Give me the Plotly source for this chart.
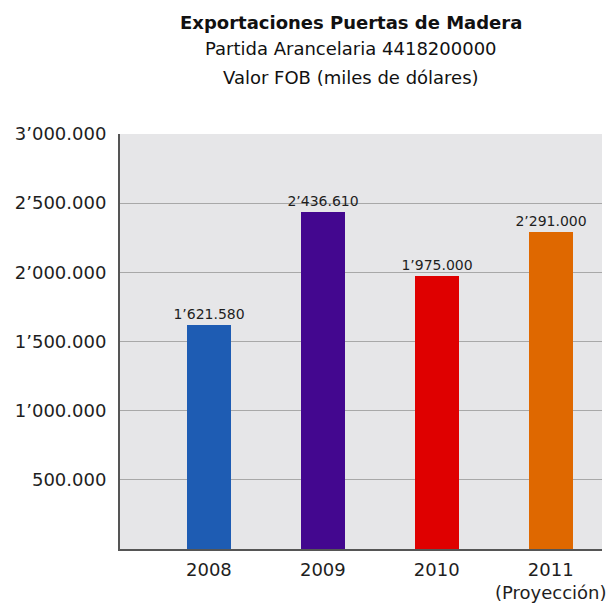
import plotly.graph_objects as go

# Export values, FOB (thousands of US dollars)
years = ["2008", "2009", "2010", "2011<br>(Proyección)"]
values = [1621580, 2436610, 1975000, 2291000]
colors = ["#1E5CB3", "#43078F", "#DF0000", "#DF6800"]
y_ticks = [500000, 1000000, 1500000, 2000000, 2500000, 3000000]


def fmt(v):
    # 1621580 -> 1’621.580
    s = f"{v:,}"
    parts = s.split(",")
    if len(parts) == 3:
        return parts[0] + "’" + parts[1] + "." + parts[2]
    return ".".join(parts)


x_pos = list(range(len(years)))
font_family = "DejaVu Sans, Arial, Helvetica, sans-serif"

W, H = 609, 604
ML, MR, MT, MB = 120, 7, 134, 55

fig = go.Figure()
fig.add_trace(go.Bar(
    x=x_pos,
    y=values,
    width=0.39,
    marker=dict(color=colors, line=dict(width=0)),
    text=[fmt(v) for v in values],
    textposition="outside",
    constraintext="none",
    textfont=dict(family=font_family, size=14, color="#1E1E1E"),
    cliponaxis=False,
    hoverinfo="skip",
))

fig.update_layout(
    width=W,
    height=H,
    margin=dict(l=ML, r=MR, t=MT, b=MB, autoexpand=False),
    paper_bgcolor="white",
    plot_bgcolor="#E6E6E8",
    showlegend=False,
    bargap=0,
    font=dict(family=font_family, color="#1E1E1E"),
    xaxis=dict(
        tickmode="array",
        tickvals=x_pos,
        ticktext=years,
        range=[-0.78, 3.45],
        showgrid=False,
        zeroline=False,
        showline=True,
        linecolor="#555555",
        linewidth=2,
        ticks="",
        automargin=False,
        tickfont=dict(size=18, color="#1E1E1E"),
        ticklabelstandoff=3,
    ),
    yaxis=dict(
        range=[0, 3000000],
        tickmode="array",
        tickvals=y_ticks,
        ticktext=[fmt(v) for v in y_ticks],
        showgrid=True,
        gridcolor="#A8A8A8",
        gridwidth=1,
        zeroline=False,
        showline=True,
        linecolor="#555555",
        linewidth=2,
        ticks="",
        automargin=False,
        tickfont=dict(size=18, color="#1E1E1E"),
        ticklabelstandoff=8,
    ),
)

# Three-line heading, positioned in pixels and converted to paper fractions
plot_w = W - ML - MR
plot_h = H - MT - MB
heading = [
    ("<b>Exportaciones Puertas de Madera</b>", 22, 18),
    ("Partida Arancelaria 4418200000", 49, 18),
    ("Valor FOB (miles de dólares)", 77, 18),
]
for text, y_px, size in heading:
    fig.add_annotation(
        text=text,
        x=(351 - ML) / plot_w,
        y=((H - y_px) - MB) / plot_h,
        xref="paper", yref="paper",
        xanchor="center", yanchor="middle",
        showarrow=False,
        font=dict(size=size, color="#111111"),
    )

fig.write_html("out.html")
